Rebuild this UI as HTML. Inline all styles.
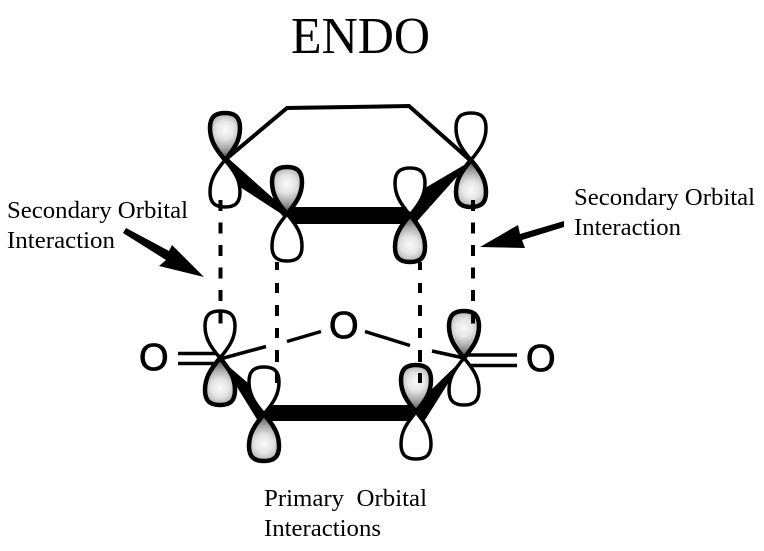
<!DOCTYPE html>
<html><head><meta charset="utf-8"><style>
html,body{margin:0;padding:0;background:#fff;width:764px;height:551px;overflow:hidden}
svg{display:block}
text{fill:#000}
.s{font-family:"Liberation Serif",serif;font-size:24.5px}
.o{font-family:"Liberation Sans",sans-serif;font-size:38px;stroke:#000;stroke-width:.8px}
</style></head><body>
<svg width="764" height="551" viewBox="0 0 764 551" xmlns="http://www.w3.org/2000/svg">
<defs>
<radialGradient id="g" gradientUnits="userSpaceOnUse" cx="0" cy="-30" r="26">
<stop offset="0" stop-color="#fafafa"/><stop offset=".35" stop-color="#e4e4e4"/><stop offset=".7" stop-color="#a8a8a8"/><stop offset="1" stop-color="#666"/>
</radialGradient>
<path id="l" d="M0,0C-10,-12 -15,-20 -15,-32C-15,-43 -10,-47 0,-47C10,-47 15,-43 15,-32C15,-20 10,-12 0,0Z"/>
<g id="w"><use href="#l" fill="#fff" stroke="#000" stroke-width="3.5"/></g>
<g id="d"><use href="#l" fill="url(#g)" stroke="#000" stroke-width="4.5"/></g>
</defs>

<text x="291" y="53" font-family="Liberation Serif, serif" font-size="52" textLength="139" lengthAdjust="spacingAndGlyphs">ENDO</text>

<!-- top ring -->
<path d="M225,160L287,108L409,106L471,161" fill="none" stroke="#000" stroke-width="4"/>
<polygon points="228,158 275,200 287,207 417,207 425,188 471,161 420,218 415,224 290,224 280,213 240,187 226,163" fill="#000"/>

<!-- lower ring -->
<polygon points="220,359 248,383 264,405 423,405 431,390 464,358 425,420 416,421 258,421 237,387" fill="#000"/>

<!-- bonds -->
<g stroke="#000" stroke-width="3.5" fill="none">
<path d="M178,353.5H222M178,363.5H222"/>
<path d="M464,355H517M464,365.5H517"/>
<path d="M220,359L266,346.5M287,341.5L321,331.5M365,331.5L410,345.5M432,351L464,358"/>
</g>

<!-- orbitals -->
<use href="#d" transform="translate(225,160)"/>
<g transform="translate(225,160) scale(1,-1)"><use href="#w"/></g>
<use href="#w" transform="translate(471,160)"/>
<g transform="translate(471,160) scale(1,-1)"><use href="#d"/></g>
<use href="#d" transform="translate(287,214)"/>
<g transform="translate(287,214) scale(1,-1)"><use href="#w"/></g>
<use href="#w" transform="translate(410,215)"/>
<g transform="translate(410,215) scale(1,-1)"><use href="#d"/></g>

<use href="#w" transform="translate(220,358)"/>
<g transform="translate(220,358) scale(1,-1)"><use href="#d"/></g>
<use href="#d" transform="translate(464,358)"/>
<g transform="translate(464,358) scale(1,-1)"><use href="#w"/></g>
<use href="#w" transform="translate(264,414)"/>
<g transform="translate(264,414) scale(1,-1)"><use href="#d"/></g>
<use href="#d" transform="translate(416,412)"/>
<g transform="translate(416,412) scale(1,-1)"><use href="#w"/></g>

<!-- dashed interactions -->
<g stroke="#000" stroke-width="4" fill="none">
<path d="M220.5,200V325" stroke-dasharray="11 11.5"/>
<path d="M277,262V270M277,283V293M277,305V316M277,328V338M277,350V362M277,373V383"/>
<path d="M420,262V270M420,283V293M420,305V316M420,328V338M420,350V362M420,373V383"/>
<path d="M473,200V325" stroke-dasharray="11 11.5"/>
</g>

<!-- arrows -->
<polygon points="126,228 123,233 166,260 159,266 204,277 172,245 169,251" fill="#000"/>
<polygon points="564,221 564,227 522,240 525,248 480,247 518,225 520,234" fill="#000"/>

<!-- atoms -->
<text class="o" x="139" y="370">O</text>
<text class="o" x="329" y="338">O</text>
<text class="o" x="526" y="371">O</text>

<!-- labels -->
<text class="s" x="7" y="218" textLength="181" lengthAdjust="spacingAndGlyphs">Secondary Orbital</text>
<text class="s" x="7" y="248" textLength="108" lengthAdjust="spacingAndGlyphs">Interaction</text>
<text class="s" x="574" y="205" textLength="181" lengthAdjust="spacingAndGlyphs">Secondary Orbital</text>
<text class="s" x="574" y="235" textLength="107" lengthAdjust="spacingAndGlyphs">Interaction</text>
<text class="s" x="264" y="506" xml:space="preserve" textLength="163" lengthAdjust="spacingAndGlyphs">Primary  Orbital</text>
<text class="s" x="264" y="536" textLength="117" lengthAdjust="spacingAndGlyphs">Interactions</text>
</svg>
</body></html>
